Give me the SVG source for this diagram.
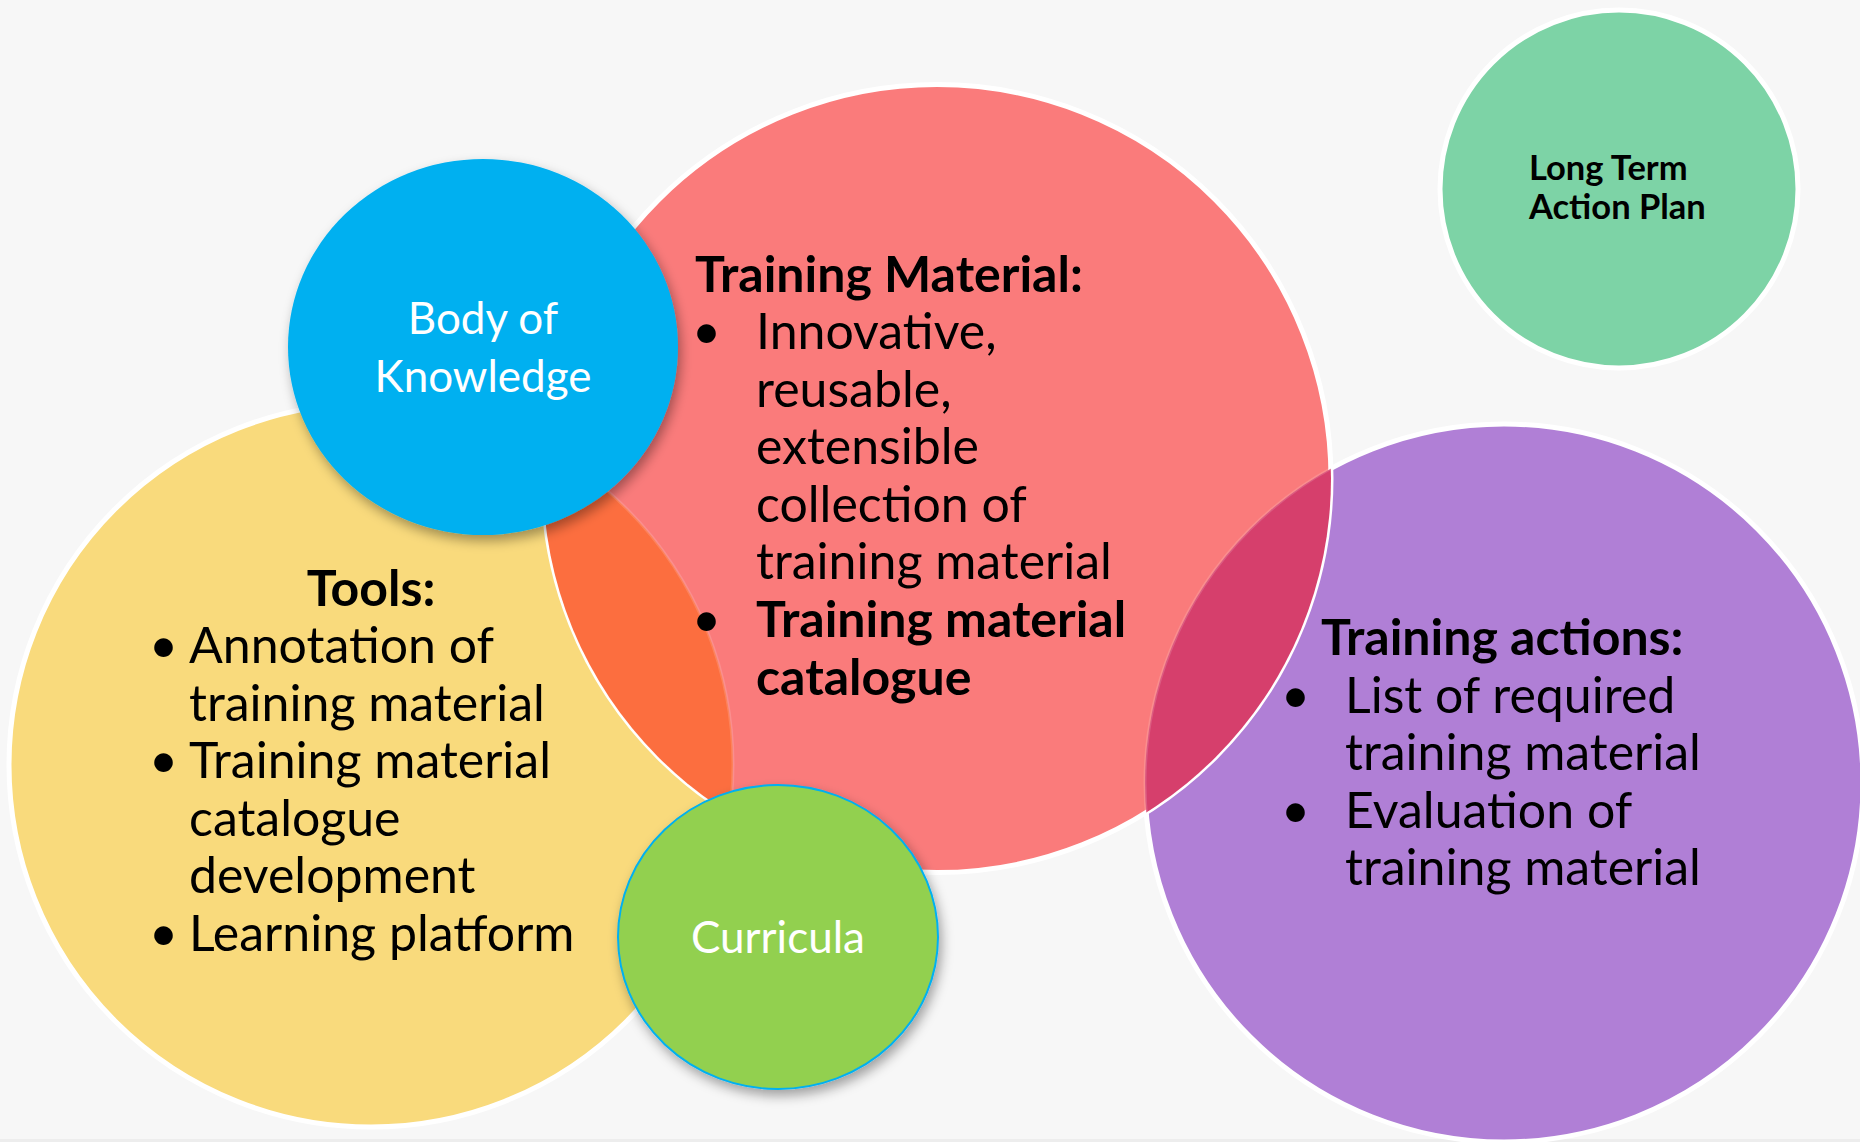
<svg xmlns="http://www.w3.org/2000/svg" width="1860" height="1142" viewBox="0 0 1860 1142">
<defs>
<style>
.t{font-family:Lato,"Liberation Sans",sans-serif;fill:#000}
.m{font-size:50px}
.s{font-size:44px}
.b{font-weight:700}
.w{fill:#fff}
.ring{stroke:#fff;stroke-width:5}
</style>
<clipPath id="clipYellow"><circle cx="371" cy="765" r="362"/></clipPath>
<clipPath id="clipPurple"><circle cx="1504" cy="783" r="359"/></clipPath>
<clipPath id="clipPink"><circle cx="937" cy="478.6" r="394"/></clipPath>
<filter id="sh" x="-20%" y="-20%" width="140%" height="140%">
<feDropShadow dx="3" dy="6" stdDeviation="6" flood-color="#000" flood-opacity="0.35"/>
</filter>
</defs>
<rect width="1860" height="1142" fill="#F7F7F7"/>
<rect y="1139" width="1860" height="3" fill="#EDEDED"/>
<g id="connectors"/>
<g id="tools">
<circle class="ring" cx="371" cy="765" r="362" fill="#F9DA7C"/>
<text class="t m b" x="371" y="606" text-anchor="middle">Tools:</text>
<text class="t m">
<tspan x="149" y="663">•</tspan><tspan x="189" y="663">Annotation of</tspan>
<tspan x="189" y="720.5">training material</tspan>
<tspan x="149" y="778">•</tspan><tspan x="189" y="778">Training material</tspan>
<tspan x="189" y="835.5">catalogue</tspan>
<tspan x="189" y="893">development</tspan>
<tspan x="149" y="950.5">•</tspan><tspan x="189" y="950.5">Learning platform</tspan>
</text>
</g>
<g id="training-actions">
<circle class="ring" cx="1504" cy="783" r="359" fill="#B07FD6"/>
<text class="t m b" x="1321" y="655">Training actions:</text>
<text class="t m">
<tspan x="1281" y="713">•</tspan><tspan x="1345" y="713">List of required</tspan>
<tspan x="1345" y="770">training material</tspan>
<tspan x="1281" y="828">•</tspan><tspan x="1345" y="828">Evaluation of</tspan>
<tspan x="1345" y="885">training material</tspan>
</text>
</g>
<g id="training-material">
<circle class="ring" cx="937" cy="478.6" r="394" fill="#FA7B7B"/>
<circle cx="937" cy="478.6" r="394" fill="#FC6E3F" clip-path="url(#clipYellow)"/>
<circle cx="937" cy="478.6" r="394" fill="#D63F6C" clip-path="url(#clipPurple)"/>
<g clip-path="url(#clipPink)" fill="none" stroke="#fff" stroke-opacity="0.15" stroke-width="3">
<circle cx="371" cy="765" r="362"/>
<circle cx="1504" cy="783" r="359"/>
</g>
<text class="t m b" x="695" y="292">Training Material:</text>
<text class="t m">
<tspan x="692" y="349">•</tspan><tspan x="756" y="349">Innovative,</tspan>
<tspan x="756" y="407">reusable,</tspan>
<tspan x="756" y="464">extensible</tspan>
<tspan x="756" y="522">collection of</tspan>
<tspan x="756" y="579">training material</tspan>
<tspan x="692" y="637">•</tspan><tspan x="756" y="637" font-weight="700">Training material</tspan>
<tspan x="756" y="695" font-weight="700">catalogue</tspan>
</text>
</g>
<g id="body-of-knowledge">
<ellipse cx="483" cy="347" rx="195" ry="188" fill="#00B0F0" filter="url(#sh)"/>
<text class="t s w" text-anchor="middle"><tspan x="483" y="334">Body of</tspan><tspan x="483" y="392">Knowledge</tspan></text>
</g>
<g id="curricula">
<ellipse cx="778" cy="937" rx="160" ry="152" fill="#92D050" stroke="#00B0F0" stroke-width="2" filter="url(#sh)"/>
<text class="t s w" x="778" y="953" text-anchor="middle">Curricula</text>
</g>
<g id="long-term-action-plan">
<circle class="ring" cx="1619" cy="189" r="179" fill="#7DD3A6"/>
<text class="t b" font-size="34.5"><tspan x="1529" y="180">Long Term</tspan><tspan x="1529" y="219">Action Plan</tspan></text>
</g>
</svg>
